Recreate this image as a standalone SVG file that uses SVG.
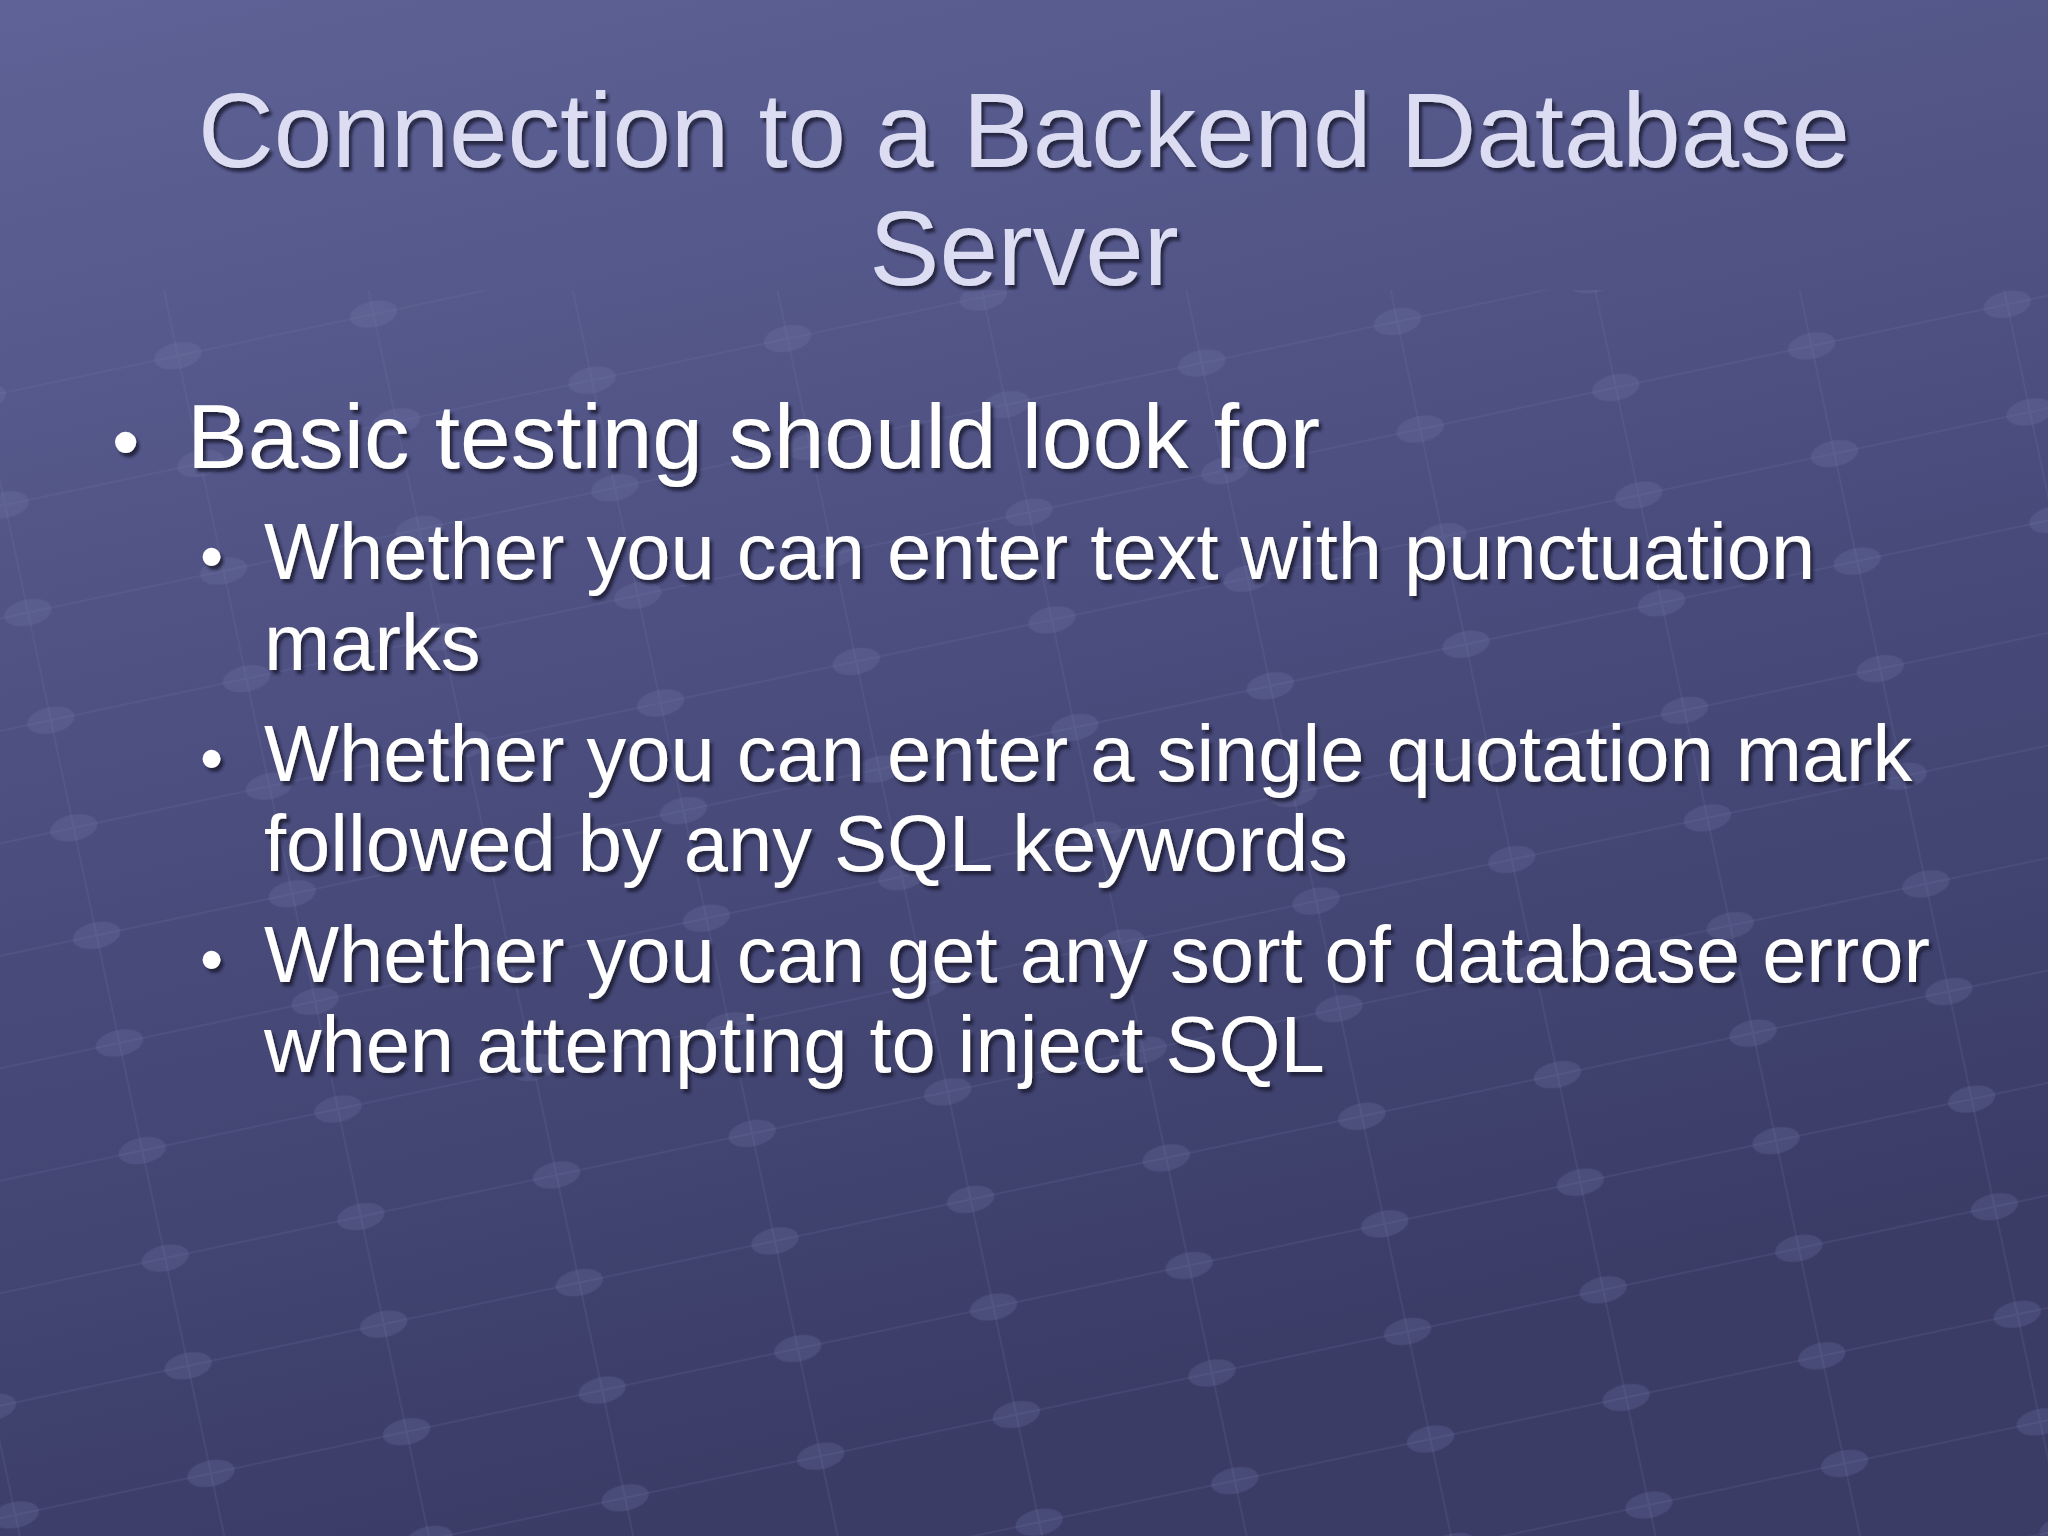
<svg xmlns="http://www.w3.org/2000/svg" width="2048" height="1536" viewBox="0 0 2048 1536">
<defs>
<linearGradient id="bg" x1="0" y1="0" x2="0.3" y2="1">
<stop offset="0" stop-color="#5f6296"/>
<stop offset="0.5" stop-color="#4b4e7e"/>
<stop offset="1" stop-color="#3a3c66"/>
</linearGradient>
<filter id="sh" x="-5%" y="-20%" width="110%" height="140%">
<feDropShadow dx="3" dy="4" stdDeviation="1.5" flood-color="#1a1b33" flood-opacity="0.8"/>
</filter>
<pattern id="grid" width="200" height="110" patternUnits="userSpaceOnUse" patternTransform="rotate(-12)">
<path d="M0 55H200M100 0V110" stroke="#7b7fb0" stroke-opacity="0.15" stroke-width="2" fill="none"/>
<ellipse cx="100" cy="55" rx="24" ry="13" fill="#7a7eb0" fill-opacity="0.22"/>
</pattern>
<style>
.t{font-family:"Liberation Sans",Arial,sans-serif;fill:#dcdcf2;font-size:105px;text-anchor:middle}
.b{font-family:"Liberation Sans",Arial,sans-serif;fill:#ffffff}
</style>
</defs>
<rect width="2048" height="1536" fill="url(#bg)"/>
<rect y="290" width="2048" height="1246" fill="url(#grid)"/>
<g filter="url(#sh)">
<text class="t" x="1024" y="167">Connection to a Backend Database</text>
<text class="t" x="1024" y="285">Server</text>
<text class="b" x="112" y="468" font-size="78">•</text>
<text class="b" x="187" y="468" font-size="91">Basic testing should look for</text>
<g font-size="66">
<text class="b" x="200" y="579">•</text>
<text class="b" x="264" y="579" font-size="79.5">Whether you can enter text with punctuation</text>
<text class="b" x="264" y="670" font-size="79.5">marks</text>
<text class="b" x="200" y="781">•</text>
<text class="b" x="264" y="781" font-size="79.5">Whether you can enter a single quotation mark</text>
<text class="b" x="264" y="871" font-size="79.5">followed by any SQL keywords</text>
<text class="b" x="200" y="982">•</text>
<text class="b" x="264" y="982" font-size="79.5">Whether you can get any sort of database error</text>
<text class="b" x="264" y="1072" font-size="79.5">when attempting to inject SQL</text>
</g>
</g>
</svg>
